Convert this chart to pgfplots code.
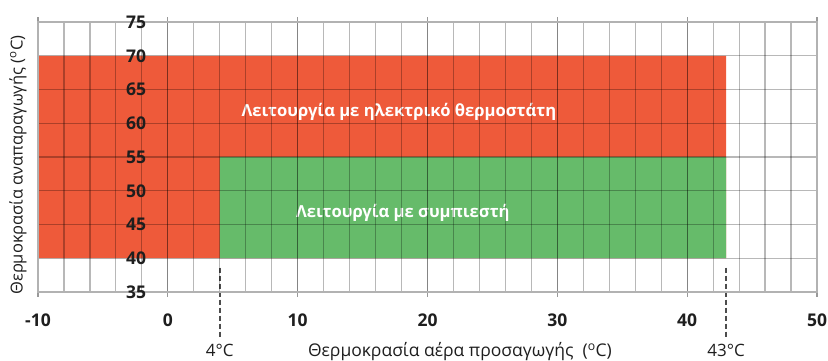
\documentclass[border=0pt]{standalone}
\usepackage{fontspec}
\setmainfont{Open Sans}
\usepackage{pgfplots}
\pgfplotsset{compat=1.18}
\definecolor{redfill}{RGB}{238,90,58}
\definecolor{greenfill}{RGB}{102,187,106}
\definecolor{txt}{RGB}{30,30,30}
\begin{document}
\begin{tikzpicture}
\useasboundingbox (-38pt,-69pt) rectangle (790pt,292pt);
\begin{axis}[
  at={(0,0)}, anchor=south west,
  scale only axis, width=779pt, height=270pt,
  xmin=-10, xmax=50, ymin=35, ymax=75,
  xtick={-10,0,...,50}, minor xtick={-8,-6,...,48},
  ytick={35,40,...,75},
  grid=both,
  major grid style={black, opacity=0.28, line width=1.2pt},
  minor grid style={black, opacity=0.28, line width=1.2pt},
  axis on top,
  clip=false,
  axis line style={black!30, line width=1.2pt},
  tick align=outside, major tick length=5pt, minor tick length=0pt,
  xtick style={black!40, line width=1.2pt},
  ytick style={draw=none},
  /pgf/number format/assume math mode=true,
  xticklabel style={font=\fontsize{17.5}{20}\selectfont\bfseries, text=txt, yshift=-13pt},
  yticklabel style={font=\fontsize{17.5}{20}\selectfont\bfseries, text=txt, anchor=center, xshift=103pt},
]
\addplot[fill=redfill, draw=none] coordinates {(-10,40) (43,40) (43,70) (-10,70) (-10,40)};
\addplot[fill=greenfill, draw=none] coordinates {(4,40) (43,40) (43,55) (4,55) (4,40)};
\addplot[black!70, line width=2.2pt, dash pattern=on 5pt off 3pt] coordinates {(4,38.6) (4,28.3)};
\addplot[black!70, line width=2.2pt, dash pattern=on 5pt off 3pt] coordinates {(43,38.6) (43,28.3)};
\node[font=\fontsize{16.6}{20}\selectfont\bfseries, text=white] at (axis cs:17.8,61.7) {Λειτουργία με ηλεκτρικό θερμοστάτη};
\node[font=\fontsize{16.6}{20}\selectfont\bfseries, text=white] at (axis cs:18.1,46.7) {Λειτουργία με συμπιεστή};
\node[font=\fontsize{17}{20}\selectfont, text=txt] at (axis cs:4,26.4) {4°C};
\node[font=\fontsize{17}{20}\selectfont, text=txt] at (axis cs:43,26.4) {43°C};
\node[font=\fontsize{17.5}{20}\selectfont, text=txt] at (axis cs:22.5,26.2) {Θερμοκρασία αέρα προσαγωγής\ \ (\textsuperscript{o}C)};
\node[font=\fontsize{16.5}{20}\selectfont, text=txt, rotate=90] at ([xshift=-20pt]rel axis cs:0,0.47) {Θερμοκρασία αναπαραγωγής (\textsuperscript{o}C)};
\end{axis}
\end{tikzpicture}
\end{document}
